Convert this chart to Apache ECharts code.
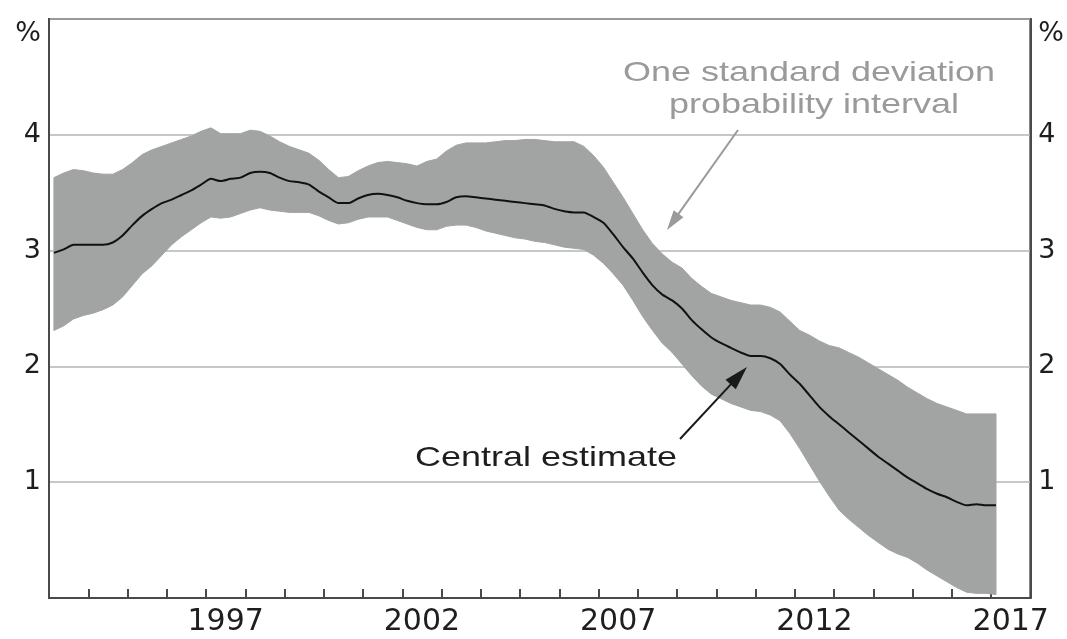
<!DOCTYPE html>
<html><head><meta charset="utf-8">
<script src="https://cdn.jsdelivr.net/npm/echarts@6/dist/echarts.min.js"></script>
<style>html,body{margin:0;padding:0;background:#fff}#c{width:1067px;height:639px}</style>
</head><body><div id="c"></div>
<script>
// ---- data ----
const years = [1993,1994,1995,1996,1997,1998,1999,2000,2001,2002,2003,2004,2005,2006,2007,2008,2009,2010,2011,2012,2013,2014,2015,2016,2017];
const labelYears = [1997, 2002, 2007, 2012, 2017];
const yTickValues = [1, 2, 3, 4];
// quarterly central estimate (%), 1993 Q1 .. 2017 Q1
const central = [
 2.98,3.01,3.05,3.05,3.05,3.05,3.07,3.13,3.22,3.30,3.36,3.41,3.44,3.48,3.52,3.57,3.62,3.60,3.62,3.63,
 3.67,3.68,3.67,3.63,3.60,3.59,3.57,3.51,3.46,3.41,3.41,3.45,3.48,3.49,3.48,3.46,3.43,3.41,3.40,3.40,
 3.42,3.46,3.47,3.46,3.45,3.44,3.43,3.42,3.41,3.40,3.39,3.36,3.34,3.33,3.33,3.29,3.24,3.14,3.03,2.93,
 2.81,2.70,2.62,2.57,2.50,2.40,2.32,2.25,2.20,2.16,2.12,2.09,2.09,2.07,2.02,1.93,1.85,1.75,1.65,1.57,
 1.50,1.43,1.36,1.29,1.22,1.16,1.10,1.04,0.99,0.94,0.90,0.87,0.83,0.80,0.81,0.80,0.80
];
// upper bound of one standard deviation interval
const upper = [
 3.63,3.67,3.70,3.69,3.67,3.66,3.66,3.70,3.76,3.83,3.87,3.90,3.93,3.96,3.99,4.03,4.06,4.01,4.01,4.01,
 4.04,4.03,3.99,3.94,3.90,3.87,3.84,3.78,3.70,3.63,3.64,3.69,3.73,3.76,3.77,3.76,3.75,3.73,3.77,3.79,
 3.86,3.91,3.93,3.93,3.93,3.94,3.95,3.95,3.96,3.96,3.95,3.94,3.94,3.94,3.90,3.82,3.72,3.59,3.46,3.32,
 3.18,3.06,2.97,2.90,2.85,2.76,2.69,2.63,2.60,2.57,2.55,2.53,2.53,2.51,2.47,2.39,2.31,2.27,2.22,2.18,
 2.16,2.12,2.08,2.03,1.98,1.93,1.88,1.82,1.77,1.72,1.68,1.65,1.62,1.59,1.59,1.59,1.59
];
// lower bound of one standard deviation interval
const lower = [
 2.31,2.35,2.41,2.44,2.46,2.49,2.53,2.60,2.70,2.80,2.87,2.96,3.05,3.12,3.18,3.24,3.29,3.28,3.29,3.32,
 3.35,3.37,3.35,3.34,3.33,3.33,3.33,3.30,3.26,3.23,3.24,3.27,3.29,3.29,3.29,3.26,3.23,3.20,3.18,3.18,
 3.21,3.22,3.22,3.20,3.17,3.15,3.13,3.11,3.10,3.08,3.07,3.05,3.03,3.02,3.01,2.96,2.89,2.80,2.70,2.57,
 2.43,2.31,2.20,2.12,2.02,1.92,1.83,1.76,1.72,1.68,1.65,1.62,1.61,1.58,1.53,1.42,1.29,1.15,1.01,0.88,
 0.76,0.68,0.61,0.54,0.48,0.42,0.38,0.35,0.30,0.24,0.19,0.14,0.09,0.05,0.04,0.04,0.03
];
const bandLabel = ['One standard deviation', 'probability interval'];
const centralLabel = 'Central estimate';
const unitLabel = '%';

// quarter positions (mid-quarter, in decimal years), 1993 Q1 onward
const qPos = [];
for (let y = years[0]; y <= years[years.length - 1]; y++) for (let q = 1; q <= 4; q++) {
  if (qPos.length < central.length) qPos.push(y + (q - 0.5) / 4);
}

const FRAME = '#4a4a4a';
const BAND = '#a2a4a4';
const GRID = '#b5b5b5';
const TXT = '#1e1e1e';
const AXFONT = 'DejaVu Sans';

const chart = echarts.init(document.getElementById('c'), null, {renderer: 'canvas'});

function arrow(x1, y1, x2, y2, color, w, headLen, headHalf) {
  const dx = x2 - x1, dy = y2 - y1, L = Math.hypot(dx, dy);
  const ux = dx / L, uy = dy / L, nx = -uy, ny = ux;
  const bx = x2 - ux * headLen, by = y2 - uy * headLen;
  return [
    {type: 'line', silent: true, z: 100, shape: {x1, y1, x2: bx + ux * 2, y2: by + uy * 2}, style: {stroke: color, lineWidth: w}},
    {type: 'polygon', silent: true, z: 100, shape: {points: [[x2, y2], [bx + nx * headHalf, by + ny * headHalf], [bx - nx * headHalf, by - ny * headHalf]]}, style: {fill: color}}
  ];
}

const yAxisCommon = {
  type: 'value', min: 0, max: 5, interval: 1,
  axisLine: {show: true, lineStyle: {color: FRAME, width: 2}},
  axisTick: {show: false},
  name: unitLabel, nameLocation: 'end', nameGap: -15,
  axisLabel: {
    fontFamily: AXFONT, fontSize: 27, color: TXT, margin: 8,
    formatter: v => (yTickValues.indexOf(v) >= 0 ? String(v) : '')
  }
};

const bandData = qPos.map((x, i) => [x, lower[i], upper[i]]);

chart.setOption({
  animation: false,
  backgroundColor: '#fff',
  grid: {left: 49, right: 36, top: 19, bottom: 41, show: true, borderColor: FRAME, borderWidth: 2, containLabel: false},
  xAxis: [
    {
      type: 'category', data: years.map(String), boundaryGap: true, position: 'bottom',
      axisLine: {show: true, lineStyle: {color: FRAME, width: 2}},
      axisTick: {show: true, inside: true, length: 9, interval: 0, lineStyle: {color: FRAME, width: 2}},
      axisLabel: {
        interval: (i, v) => labelYears.indexOf(Number(v)) >= 0,
        fontFamily: AXFONT, fontSize: 30, color: TXT, margin: 9
      },
      splitLine: {show: false}
    },
    {type: 'value', min: years[0], max: years[years.length - 1] + 1, show: false}
  ],
  yAxis: [
    Object.assign({}, yAxisCommon, {
      position: 'left',
      splitLine: {show: true, lineStyle: {color: GRID, width: 1.5}},
      nameTextStyle: {fontFamily: AXFONT, fontSize: 27, color: TXT, align: 'right', verticalAlign: 'middle', padding: [0, 8, 0, 0]}
    }),
    Object.assign({}, yAxisCommon, {
      position: 'right',
      splitLine: {show: false},
      nameTextStyle: {fontFamily: AXFONT, fontSize: 27, color: TXT, align: 'left', verticalAlign: 'middle', padding: [0, 0, 0, 8]}
    })
  ],
  series: [
    {
      name: 'band', type: 'custom', xAxisIndex: 1, yAxisIndex: 0,
      data: bandData, silent: true, z: 2,
      encode: {x: 0, y: [1, 2]},
      renderItem: function (params, api) {
        if (params.dataIndex !== 0) return null;
        const top = [], bot = [];
        for (let i = 0; i < bandData.length; i++) {
          top.push(api.coord([bandData[i][0], bandData[i][2]]));
          bot.push(api.coord([bandData[i][0], bandData[i][1]]));
        }
        const pts = top.concat(bot.reverse());
        return {type: 'polygon', shape: {points: pts}, style: {fill: BAND, stroke: BAND, lineWidth: 1}};
      }
    },
    {
      name: 'central', type: 'line', xAxisIndex: 1, yAxisIndex: 0,
      data: qPos.map((x, i) => [x, central[i]]),
      symbol: 'none', smooth: 0.2, lineStyle: {color: '#111', width: 2}, z: 5
    }
  ],
  graphic: [
    {type: 'text', silent: true, z: 100, x: 809, y: 73, scaleX: 1.285,
     style: {text: bandLabel[0], font: '28px "Liberation Sans"', fill: '#9a9a9a', align: 'center', verticalAlign: 'middle'}},
    {type: 'text', silent: true, z: 100, x: 814, y: 105, scaleX: 1.285,
     style: {text: bandLabel[1], font: '28px "Liberation Sans"', fill: '#9a9a9a', align: 'center', verticalAlign: 'middle'}},
    {type: 'text', silent: true, z: 100, x: 546, y: 458, scaleX: 1.285,
     style: {text: centralLabel, font: '28px "Liberation Sans"', fill: TXT, align: 'center', verticalAlign: 'middle'}}
  ].concat(arrow(738, 130, 667, 230, '#9a9a9a', 2, 20, 6))
   .concat(arrow(680, 439, 747, 367, '#1a1a1a', 2, 24, 7))
});
</script></body></html>
